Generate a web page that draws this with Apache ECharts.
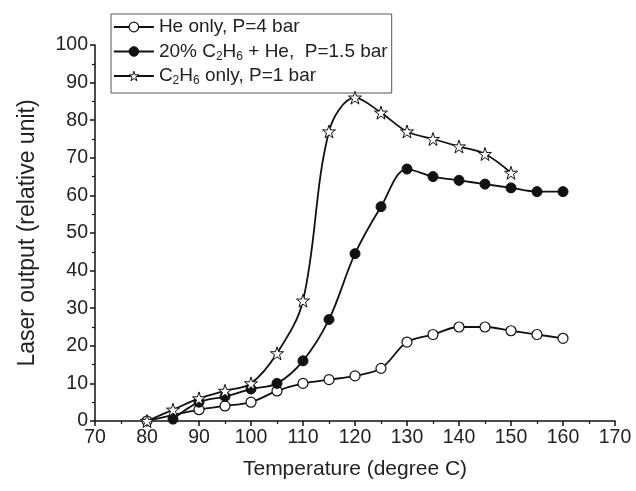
<!DOCTYPE html>
<html>
<head>
<meta charset="utf-8">
<script src="https://cdn.jsdelivr.net/npm/echarts@6/dist/echarts.min.js"></script>
<style>html,body{margin:0;padding:0;background:#fff}#c{width:636px;height:491px}</style>
</head>
<body>
<div id="c"></div>
<script>
// ---- data ----
const seriesNames = ['He only, P=4 bar', '20% C2H6 + He,  P=1.5 bar', 'C2H6 only, P=1 bar'];
const heX = [80, 90, 95, 100, 105, 110, 115, 120, 125, 130, 135, 140, 145, 150, 155, 160];
const heY = [0, 3, 4, 5, 8, 10, 11, 12, 14, 21, 23, 25, 25, 24, 23, 22];
const mixX = [85, 90, 95, 100, 105, 110, 115, 120, 125, 130, 135, 140, 145, 150, 155, 160];
const mixY = [0.5, 5, 6.5, 8.5, 10, 16, 27, 44.5, 57, 67, 65, 64, 63, 62, 61, 61];
const ethX = [80, 85, 90, 95, 100, 105, 110, 115, 120, 125, 130, 135, 140, 145, 150];
const ethY = [0, 3, 6, 8, 10, 18, 32, 77, 86, 82, 77, 75, 73, 71, 66];
const xTicks = [70, 80, 90, 100, 110, 120, 130, 140, 150, 160, 170];
const yTicks = [0, 10, 20, 30, 40, 50, 60, 70, 80, 90, 100];

const pair = (xs, ys) => xs.map((x, i) => [x, ys[i]]);
const FONT = 'Liberation Sans, Arial, sans-serif';
const STAR = 'path://M50,2 L61,36 L97,36 L68,57 L79,92 L50,71 L21,92 L32,57 L3,36 L39,36 Z';

const styles = [
  {symbol: 'circle', symbolSize: 10, itemStyle: {color: '#fff', borderColor: '#111', borderWidth: 1.2}},
  {symbol: 'circle', symbolSize: 10, itemStyle: {color: '#111', borderColor: '#111', borderWidth: 1}},
  {symbol: STAR, symbolSize: 13, itemStyle: {color: '#fff', borderColor: '#111', borderWidth: 1}}
];
const lineSt = {color: '#111', width: 1.8};

const chart = echarts.init(document.getElementById('c'), null, {renderer: 'canvas'});
const axisCommon = {
  axisLine: {show: true, lineStyle: {color: '#111', width: 1.5}},
  axisTick: {show: true, inside: false, length: 5, lineStyle: {color: '#111', width: 1.5}},
  minorTick: {show: true, splitNumber: 2, length: 3, lineStyle: {color: '#111', width: 1.2}},
  splitLine: {show: false},
  axisLabel: {color: '#222', fontSize: 19.5, fontFamily: FONT}
};
chart.setOption({
  animation: false,
  backgroundColor: '#fff',
  grid: {left: 95, right: 21, top: 45, bottom: 70, containLabel: false},
  legend: {
    orient: 'vertical',
    left: 111, top: 14,
    padding: [2, 4, 6, 2],
    itemGap: 2.5,
    itemWidth: 40,
    itemHeight: 12,
    borderColor: '#555',
    borderWidth: 1,
    data: seriesNames.map((n, i) => ({name: n, itemStyle: styles[i].itemStyle, lineStyle: lineSt})),
    formatter: function (n) {
      return n.replace(/C2H6/g, 'C{sub|2}H{sub|6}');
    },
    textStyle: {
      color: '#222', fontSize: 19, fontFamily: FONT, lineHeight: 22,
      rich: {sub: {fontSize: 12, fontFamily: FONT, color: '#222', lineHeight: 5, verticalAlign: 'bottom'}}
    }
  },
  xAxis: Object.assign({}, axisCommon, {
    type: 'value', min: 70, max: 170, interval: 10,
    name: 'Temperature (degree C)', nameLocation: 'middle', nameGap: 38,
    nameTextStyle: {fontSize: 21, color: '#222', fontFamily: FONT},
    axisLabel: Object.assign({}, axisCommon.axisLabel, {
      margin: 7,
      formatter: v => xTicks.includes(v) ? String(v) : ''
    })
  }),
  yAxis: Object.assign({}, axisCommon, {
    type: 'value', min: 0, max: 100, interval: 10,
    name: 'Laser output (relative unit)', nameLocation: 'middle', nameGap: 56,
    nameTextStyle: {fontSize: 23, color: '#222', fontFamily: FONT},
    axisLabel: Object.assign({}, axisCommon.axisLabel, {
      margin: 7,
      formatter: v => yTicks.includes(v) ? String(v) : ''
    })
  }),
  series: [
    Object.assign({name: seriesNames[0], type: 'line', data: pair(heX, heY), smooth: 0.35, lineStyle: lineSt}, styles[0]),
    Object.assign({name: seriesNames[1], type: 'line', data: pair(mixX, mixY), smooth: 0.35, lineStyle: lineSt}, styles[1]),
    Object.assign({name: seriesNames[2], type: 'line', data: pair(ethX, ethY), smooth: 0.35, lineStyle: lineSt}, styles[2])
  ]
});
</script>
</body>
</html>
